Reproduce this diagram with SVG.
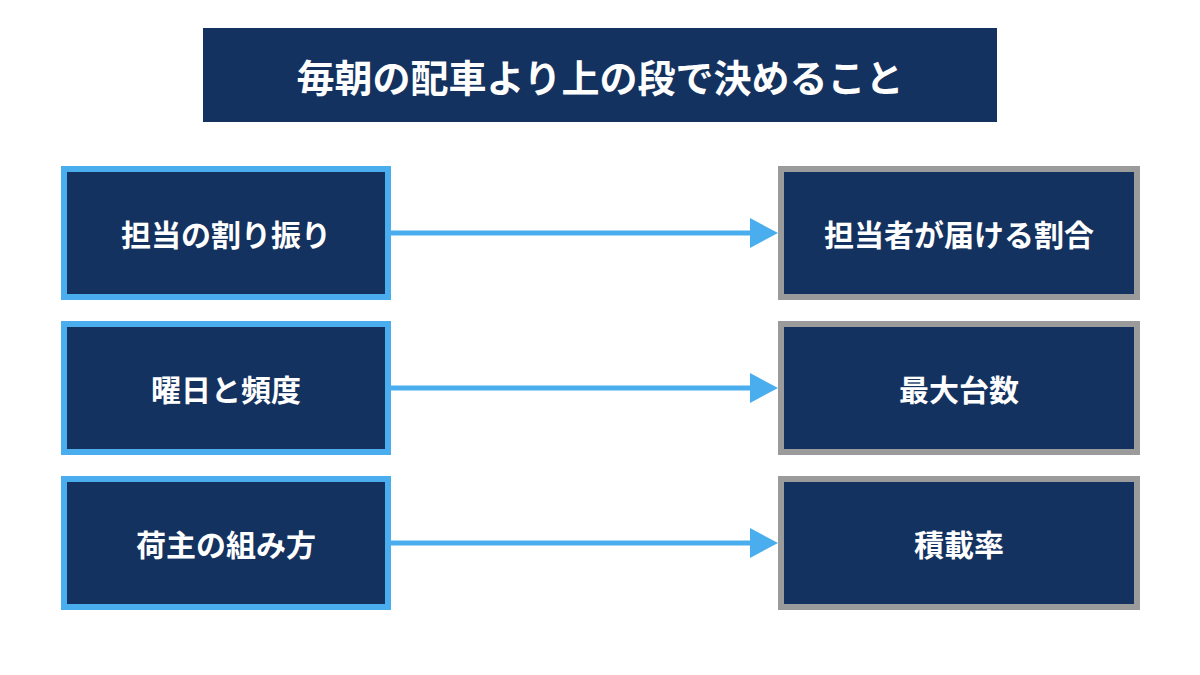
<svg xmlns="http://www.w3.org/2000/svg" width="1200" height="675" viewBox="0 0 1200 675">
<defs>
<style>
.t{font-family:"Noto Sans CJK JP","Noto Sans",sans-serif;font-weight:bold;fill:#fff;text-anchor:middle;dominant-baseline:central}
.l{fill:#14325f;stroke:#4aaeee;stroke-width:6}
.r{fill:#14325f;stroke:#9b9b9b;stroke-width:6}
.c{stroke:#4aaeee;stroke-width:5;fill:none}
</style>
<marker id="a" markerWidth="6" markerHeight="8" refX="6" refY="4" orient="auto" markerUnits="userSpaceOnUse" viewBox="0 0 6 8"><path d="M0,0L6,4L0,8z" fill="#4aaeee"/></marker>
</defs>
<rect width="1200" height="675" fill="#fff"/>
<g id="title"><rect x="203" y="28" width="794" height="94" fill="#14325f"/><text class="t" x="600" y="75" font-size="38">毎朝の配車より上の段で決めること</text></g>
<g id="l1"><rect class="l" x="64" y="169" width="324" height="128"/><text class="t" x="226" y="233" font-size="30">担当の割り振り</text></g>
<g id="l2"><rect class="l" x="64" y="324" width="324" height="128"/><text class="t" x="226" y="388" font-size="30">曜日と頻度</text></g>
<g id="l3"><rect class="l" x="64" y="479" width="324" height="128"/><text class="t" x="226" y="543" font-size="30">荷主の組み方</text></g>
<g id="r1"><rect class="r" x="781" y="169" width="356" height="128"/><text class="t" x="959" y="233" font-size="30">担当者が届ける割合</text></g>
<g id="r2"><rect class="r" x="781" y="324" width="356" height="128"/><text class="t" x="959" y="388" font-size="30">最大台数</text></g>
<g id="r3"><rect class="r" x="781" y="479" width="356" height="128"/><text class="t" x="959" y="543" font-size="30">積載率</text></g>
<g id="connectors">
<path d="M391,233H752" class="c"/><path d="M750,218L778,233L750,248z" fill="#4aaeee"/>
<path d="M391,388H752" class="c"/><path d="M750,373L778,388L750,403z" fill="#4aaeee"/>
<path d="M391,543H752" class="c"/><path d="M750,528L778,543L750,558z" fill="#4aaeee"/>
</g>
</svg>
